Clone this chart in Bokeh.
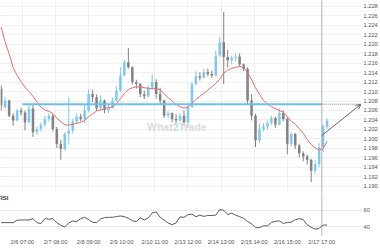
from bokeh.plotting import figure
from bokeh.layouts import column
from bokeh.models import (ColumnDataSource, Span, FixedTicker, Range1d, Label,
                          Arrow, OpenHead, PrintfTickFormatter)
from bokeh.embed import file_html
from bokeh.resources import INLINE

# ---------------- data (hours counted from 2/5 14:00, 3-hour bars) ----------------
bar_hours = list(range(1, 250, 3))

opens = [1.2106, 1.2067, 1.2081, 1.2049, 1.2039, 1.2060, 1.2056, 1.2035, 1.2064, 1.2014,
         1.2021, 1.2030, 1.2042, 1.2049, 1.2021, 1.1990, 1.1979, 1.2011, 1.2018, 1.2037,
         1.2047, 1.2042, 1.2060, 1.2095, 1.2088, 1.2064, 1.2081, 1.2061, 1.2066, 1.2081,
         1.2102, 1.2134, 1.2162, 1.2151, 1.2120, 1.2116, 1.2094, 1.2090, 1.2108, 1.2120,
         1.2095, 1.2081, 1.2049, 1.2054, 1.2042, 1.2039, 1.2049, 1.2035, 1.2067, 1.2116,
         1.2132, 1.2129, 1.2141, 1.2137, 1.2134, 1.2176, 1.2204, 1.2173, 1.2166, 1.2171,
         1.2174, 1.2157, 1.2148, 1.2081, 1.2049, 1.1997, 1.2021, 1.2026, 1.2033, 1.2044,
         1.2030, 1.2054, 1.2042, 1.1990, 1.2011, 1.1986, 1.1970, 1.1963, 1.1956, 1.1933,
         1.1947, 1.1983, 1.2026]
highs = [1.2113, 1.2088, 1.2083, 1.2054, 1.2064, 1.2066, 1.2060, 1.2073, 1.2071, 1.2026,
         1.2035, 1.2049, 1.2054, 1.2052, 1.2025, 1.1998, 1.2014, 1.2088, 1.2042, 1.2053,
         1.2053, 1.2074, 1.2105, 1.2104, 1.2094, 1.2092, 1.2083, 1.2071, 1.2088, 1.2111,
         1.2151, 1.2167, 1.2192, 1.2153, 1.2125, 1.2118, 1.2102, 1.2113, 1.2136, 1.2126,
         1.2108, 1.2083, 1.2059, 1.2056, 1.2052, 1.2054, 1.2060, 1.2075, 1.2120, 1.2144,
         1.2141, 1.2148, 1.2148, 1.2144, 1.2187, 1.2216, 1.2268, 1.2188, 1.2176, 1.2180,
         1.2180, 1.2159, 1.2151, 1.2094, 1.2053, 1.2033, 1.2033, 1.2039, 1.2049, 1.2047,
         1.2064, 1.2060, 1.2046, 1.2014, 1.2012, 1.1990, 1.1974, 1.1967, 1.1958, 1.1956,
         1.1991, 1.2030, 1.2043]
lows = [1.2060, 1.2064, 1.2046, 1.2028, 1.2037, 1.2049, 1.2018, 1.2032, 1.2004, 1.2009,
        1.2016, 1.2025, 1.2037, 1.2016, 1.1981, 1.1956, 1.1975, 1.1988, 1.2011, 1.2033,
        1.2037, 1.2033, 1.2056, 1.2078, 1.2059, 1.2060, 1.2054, 1.2054, 1.2064, 1.2078,
        1.2099, 1.2132, 1.2148, 1.2115, 1.2106, 1.2088, 1.2084, 1.2087, 1.2104, 1.2085,
        1.2073, 1.2044, 1.2044, 1.2035, 1.2029, 1.2037, 1.2028, 1.2023, 1.2066, 1.2113,
        1.2123, 1.2127, 1.2132, 1.2129, 1.2132, 1.2173, 1.2116, 1.2151, 1.2157, 1.2164,
        1.2153, 1.2143, 1.2071, 1.2039, 1.1983, 1.1991, 1.2016, 1.2020, 1.2030, 1.2023,
        1.2028, 1.2037, 1.1968, 1.1984, 1.1979, 1.1961, 1.1953, 1.1946, 1.1909, 1.1926,
        1.1940, 1.1972, 1.2021]
closes = [1.2071, 1.2081, 1.2049, 1.2039, 1.2060, 1.2056, 1.2035, 1.2064, 1.2014, 1.2021,
          1.2030, 1.2042, 1.2049, 1.2021, 1.1990, 1.1979, 1.2011, 1.2018, 1.2037, 1.2047,
          1.2042, 1.2060, 1.2095, 1.2088, 1.2064, 1.2081, 1.2061, 1.2066, 1.2081, 1.2102,
          1.2134, 1.2162, 1.2151, 1.2120, 1.2116, 1.2094, 1.2090, 1.2108, 1.2120, 1.2095,
          1.2081, 1.2049, 1.2054, 1.2042, 1.2039, 1.2049, 1.2035, 1.2067, 1.2116, 1.2132,
          1.2129, 1.2141, 1.2137, 1.2134, 1.2176, 1.2204, 1.2173, 1.2166, 1.2171, 1.2174,
          1.2157, 1.2148, 1.2081, 1.2049, 1.1997, 1.2021, 1.2026, 1.2033, 1.2044, 1.2030,
          1.2054, 1.2042, 1.1990, 1.2011, 1.1986, 1.1970, 1.1963, 1.1956, 1.1933, 1.1947,
          1.1983, 1.2026, 1.2039]
moving_avg = [1.2236, 1.2204, 1.2180, 1.2151, 1.2134, 1.2121, 1.2109, 1.2100, 1.2090, 1.2078,
              1.2067, 1.2061, 1.2058, 1.2054, 1.2044, 1.2036, 1.2030, 1.2029, 1.2031, 1.2033,
              1.2035, 1.2039, 1.2047, 1.2053, 1.2059, 1.2061, 1.2064, 1.2066, 1.2067, 1.2074,
              1.2085, 1.2096, 1.2104, 1.2108, 1.2110, 1.2110, 1.2108, 1.2107, 1.2106, 1.2106,
              1.2104, 1.2095, 1.2087, 1.2080, 1.2073, 1.2068, 1.2065, 1.2067, 1.2075, 1.2083,
              1.2090, 1.2096, 1.2103, 1.2110, 1.2117, 1.2126, 1.2139, 1.2145, 1.2149, 1.2151,
              1.2153, 1.2151, 1.2140, 1.2125, 1.2108, 1.2094, 1.2081, 1.2074, 1.2068, 1.2064,
              1.2060, 1.2056, 1.2047, 1.2037, 1.2031, 1.2022, 1.2012, 1.1999, 1.1988, 1.1981,
              1.1977, 1.1979, 1.1995]
rsi = [45.2, 45.2, 45.2, 45.2, 48.0, 48.4, 48.4, 48.4, 50.0, 45.2,
       44.0, 50.0, 49.2, 50.0, 45.2, 42.0, 40.0, 44.8, 47.2, 46.4,
       50.0, 51.6, 48.8, 45.6, 45.2, 49.6, 51.2, 51.6, 51.6, 52.4,
       53.2, 52.4, 50.4, 47.6, 46.4, 50.8, 48.4, 50.8, 56.8, 58.0,
       51.6, 48.4, 44.8, 42.8, 44.8, 52.0, 51.6, 54.8,
       55.4, 52.3, 54.2, 52.7, 53.8, 53.8, 54.2, 60.8, 60.0, 55.0,
       56.5, 54.2, 52.3, 50.4, 46.5, 43.8, 39.2, 39.2, 41.5, 41.2,
       45.4, 46.9, 47.3, 44.2, 45.4, 45.8, 48.8, 50.0, 48.8, 42.7,
       39.6, 37.3, 38.4, 42.3, 42.3]

tick_hours = [17, 42, 67, 92, 117, 142, 167, 192, 217, 243]
tick_labels = ["2/6 07:00", "2/7 08:00", "2/8 09:00", "2/9 10:00", "2/10 11:00",
               "2/13 12:00", "2/14 13:00", "2/15 14:00", "2/16 15:00", "2/17 17:00"]
price_ticks = [1.190, 1.192, 1.194, 1.196, 1.198, 1.200, 1.202, 1.204, 1.206, 1.208,
               1.210, 1.212, 1.214, 1.216, 1.218, 1.220, 1.222, 1.224, 1.226, 1.228]
rsi_ticks = [40, 60]

level = 1.2073          # horizontal resistance line
level_start, now_hour, proj_hour = 17, 243, 272.5
arrow_start_price = 1.2007

UP, DOWN = "#80c8ef", "#828282"
FONT = "Liberation Sans"
LBL = "#555555"
GRID = "#f0f0f0"

# ---------------- main price panel ----------------
xr = Range1d(0.48, 273.0)
p = figure(width=380, height=192, x_range=xr, y_range=Range1d(1.1887, 1.2292),
           output_backend="svg", toolbar_location=None, x_axis_location=None,
           y_axis_location="right", min_border_left=0, min_border_right=17,
           min_border_top=0, min_border_bottom=0)
p.outline_line_color = None
p.yaxis.ticker = FixedTicker(ticks=price_ticks)
p.yaxis.formatter = PrintfTickFormatter(format="%.3f")
p.yaxis.major_label_text_font_size = "5.7px"
p.yaxis.major_label_text_font = FONT
p.yaxis.major_label_text_color = LBL
p.yaxis.axis_line_color = None
p.yaxis.major_tick_line_color = None
p.yaxis.minor_tick_line_color = None
p.yaxis.major_tick_out = 0
p.yaxis.major_label_standoff = 2
p.ygrid.grid_line_color = GRID
p.xgrid.ticker = FixedTicker(ticks=tick_hours)
p.xgrid.grid_line_color = GRID

colors = [UP if c >= o else DOWN for o, c in zip(opens, closes)]
src = ColumnDataSource(dict(x=bar_hours, h=highs, l=lows,
                            top=[max(o, c) for o, c in zip(opens, closes)],
                            bot=[min(o, c) for o, c in zip(opens, closes)],
                            col=colors))

# watermark
for txt, off, colr in [("What", 0, "#dcdcdc"), ("2", 25.7, "#bfe3f5"), ("Trade", 31.5, "#dcdcdc")]:
    p.add_layout(Label(x=111.07, y=1.2025, x_offset=off, text=txt, text_font=FONT,
                       text_font_style="bold", text_font_size="10.5px", text_color=colr,
                       text_baseline="middle"))

p.segment(x0="x", y0="h", x1="x", y1="l", line_color="col", line_width=1, source=src)
p.vbar(x="x", width=1.9, top="top", bottom="bot", fill_color="col", line_color=None, source=src)
p.line(bar_hours, moving_avg, line_color="#f26868", line_width=1)

p.segment(x0=[level_start], y0=[level], x1=[now_hour], y1=[level], line_color="#6cc0ec", line_width=2)
p.segment(x0=[now_hour], y0=[level], x1=[proj_hour], y1=[level], line_color="#a8a8a8",
          line_width=1.5, line_dash="1 1")
p.add_layout(Span(location=now_hour, dimension="height", line_color="#a0a0a0",
                  line_width=1.5, line_dash="1 1"))
p.add_layout(Arrow(end=OpenHead(size=5, line_color="#666666", line_width=1),
                   x_start=now_hour, y_start=arrow_start_price, x_end=proj_hour, y_end=level,
                   line_color="#666666", line_width=1))

# ---------------- RSI panel ----------------
r = figure(width=380, height=58, x_range=xr, y_range=Range1d(28.6, 81.3),
           output_backend="svg", toolbar_location=None, y_axis_location="right",
           min_border_left=0, min_border_right=17, min_border_top=0, min_border_bottom=14)
r.outline_line_color = None
r.yaxis.ticker = FixedTicker(ticks=rsi_ticks)
r.yaxis.major_label_text_font_size = "5.7px"
r.yaxis.major_label_text_font = FONT
r.yaxis.major_label_text_color = LBL
r.yaxis.axis_line_color = None
r.yaxis.major_tick_line_color = None
r.yaxis.minor_tick_line_color = None
r.yaxis.major_tick_out = 0
r.yaxis.major_label_standoff = 2
r.ygrid.grid_line_color = "#e6e6e6"
r.xgrid.grid_line_color = None
r.xaxis.ticker = FixedTicker(ticks=tick_hours)
r.xaxis.major_label_overrides = {h: t for h, t in zip(tick_hours, tick_labels)}
r.xaxis.major_label_text_font_size = "5.7px"
r.xaxis.major_label_text_font = FONT
r.xaxis.major_label_text_color = LBL
r.xaxis.axis_line_color = None
r.xaxis.major_tick_line_color = None
r.xaxis.minor_tick_line_color = None
r.xaxis.major_tick_out = 0
r.xaxis.major_label_standoff = 2

r.line(bar_hours, rsi, line_color="#5a5a5a", line_width=1)
r.add_layout(Span(location=now_hour, dimension="height", line_color="#a0a0a0",
                  line_width=1.5, line_dash="1 1"))
r.add_layout(Label(x=0.48, y=75.3, x_offset=-2, text="RSI", text_font=FONT,
                   text_font_style="bold", text_font_size="6px", text_color="#333333",
                   text_baseline="middle"))

layout = column(p, r, spacing=0)
open("out.html", "w").write(file_html(layout, INLINE))
